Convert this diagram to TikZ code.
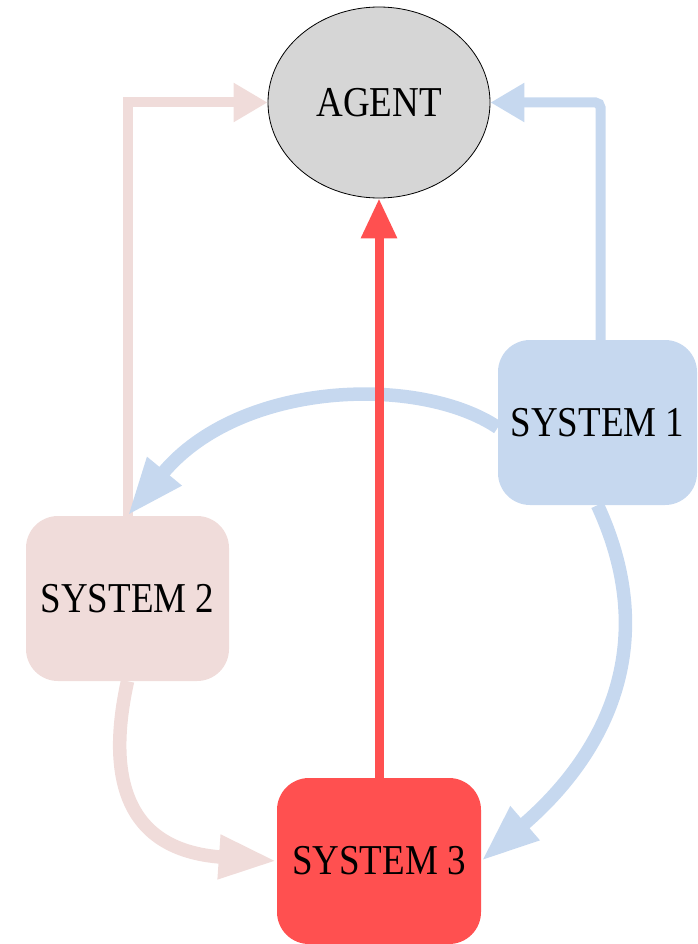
\documentclass[tikz,border=0pt]{standalone}
\usepackage{fontspec}
\usepackage{graphicx}
\setmainfont{Liberation Serif}
\usetikzlibrary{arrows.meta,shapes.geometric}

\definecolor{agentgray}{HTML}{D6D6D6}
\definecolor{sysblue}{HTML}{C6D8EF}
\definecolor{syspink}{HTML}{F0DCDA}
\definecolor{sysred}{HTML}{FF5050}

\newcommand\boxlabel[1]{\scalebox{1}[1.15]{\fontsize{37}{44}\selectfont #1}}

\tikzset{
  sysbox/.style={rectangle, rounded corners=32pt, draw=none, inner sep=0pt,
    minimum width=203pt, minimum height=165pt},
  agentnode/.style={ellipse, draw=black, line width=0.8pt, fill=agentgray, inner sep=0pt,
    minimum width=222pt, minimum height=191pt},
  straightlink/.style={line width=10pt, -{Triangle[length=34pt,width=37pt]}},
  curvedlink/.style={line width=13.5pt, -{Triangle[length=58pt,width=41pt]}},
}

\begin{document}
\begin{tikzpicture}[x=1pt,y=-1pt]
  \useasboundingbox (0,0) rectangle (697,944);

  % nodes
  \node[agentnode] (agent) at (379,102.5) {\boxlabel{AGENT}};
  \node[sysbox, fill=sysblue, minimum width=199pt] (s1) at (597.5,422.5) {\boxlabel{SYSTEM 1}};
  \node[sysbox, fill=syspink] (s2) at (127.5,598.5) {\boxlabel{SYSTEM 2}};
  \node[sysbox, fill=sysred, minimum width=204pt, minimum height=166pt] (s3) at (379,861) {\boxlabel{SYSTEM 3}};

  % system 2 -> agent
  \draw[straightlink, draw=syspink] (s2.north) |- (agent.west);
  % system 1 -> agent
  \draw[straightlink, draw=sysblue, rounded corners=5pt]
    ([xshift=3pt]s1.north) |- (agent.east);
  % system 1 -> system 2
  \draw[curvedlink, draw=sysblue]
    ([yshift=-5pt]s1.west) .. controls (420,375) and (240,380) .. (s2.north);
  % system 1 -> system 3
  \draw[curvedlink, draw=sysblue]
    (s1.south) .. controls (660,640) and (610,750) .. (s3.east);
  % system 2 -> system 3
  \draw[curvedlink, draw=syspink]
    (s2.south) .. controls (108,770) and (120,850) .. (s3.west);
  % system 3 -> agent
  \draw[line width=9pt, draw=sysred, -{Triangle[length=40pt,width=34pt]}]
    (s3.north) -- (agent.south);
\end{tikzpicture}
\end{document}
